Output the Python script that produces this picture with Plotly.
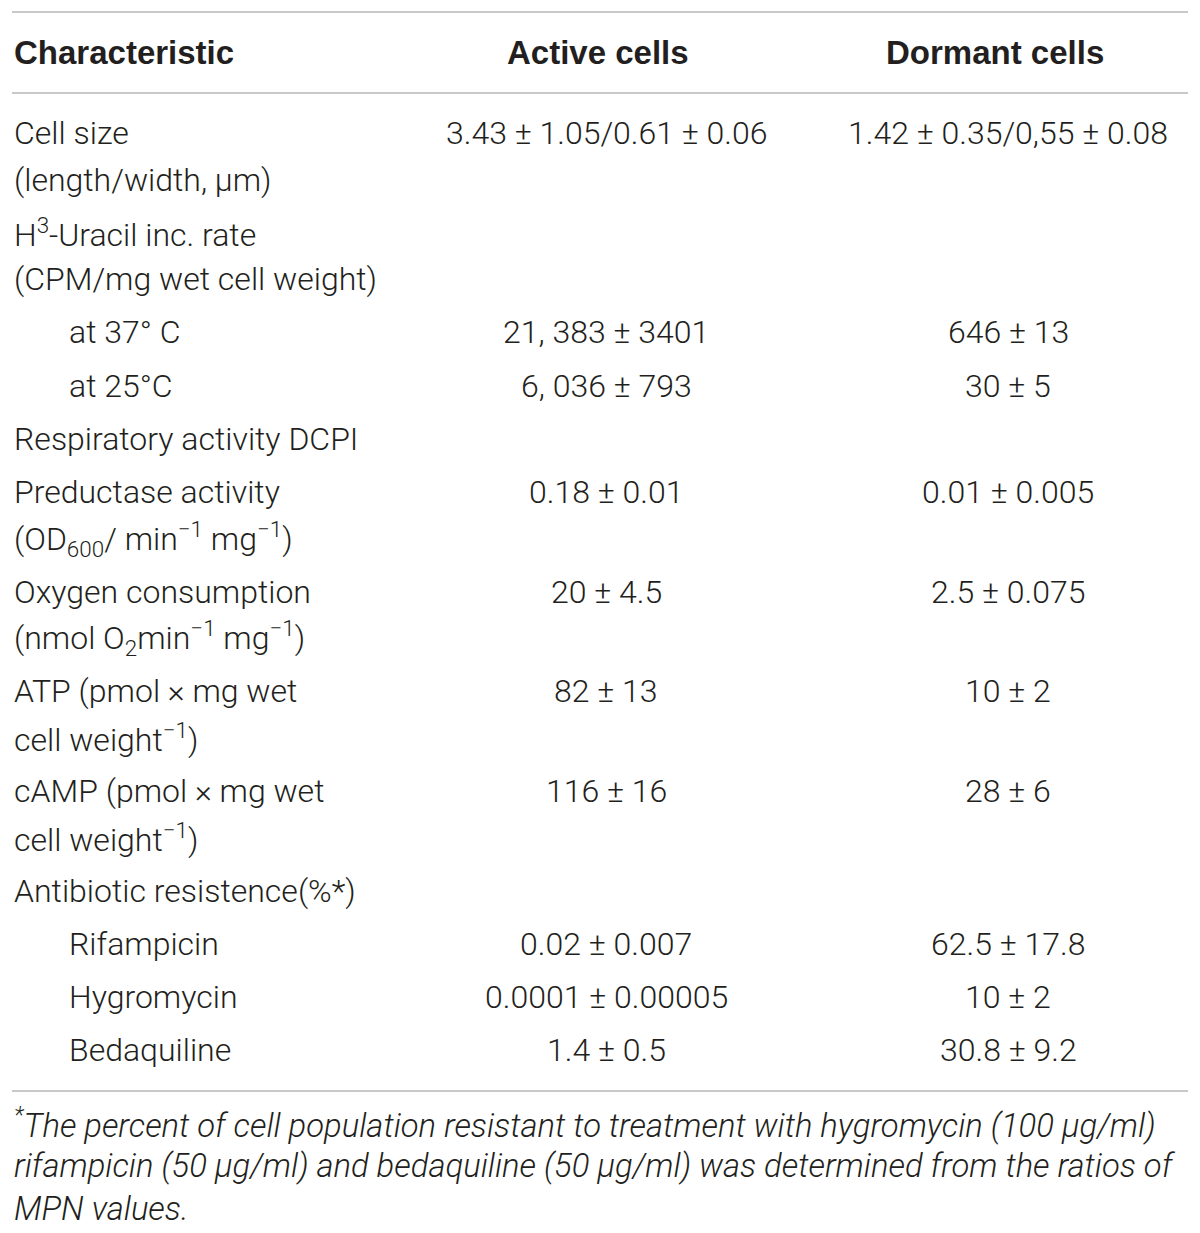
import plotly.graph_objects as go

# ---------------- data ----------------
headers = ["Characteristic", "Active cells", "Dormant cells"]

row_labels = [
    ["Cell size", "(length/width, μm)"],
    ["H<sup>3</sup>-Uracil inc. rate", "(CPM/mg wet cell weight)"],
    ["at 37° C"],
    ["at 25°C"],
    ["Respiratory activity DCPI"],
    ["Preductase activity", "(OD<sub>600</sub>/ min<sup>−1</sup> mg<sup>−1</sup>)"],
    ["Oxygen consumption", "(nmol O<sub>2</sub>min<sup>−1</sup> mg<sup>−1</sup>)"],
    ["ATP (pmol × mg wet", "cell weight<sup>−1</sup>)"],
    ["cAMP (pmol × mg wet", "cell weight<sup>−1</sup>)"],
    ["Antibiotic resistence(%*)"],
    ["Rifampicin"],
    ["Hygromycin"],
    ["Bedaquiline"],
]
row_indent = [False, False, True, True, False, False, False, False, False, False, True, True, True]

active_values = [
    "3.43 ± 1.05/0.61 ± 0.06", "", "21, 383 ± 3401", "6, 036 ± 793", "",
    "0.18 ± 0.01", "20 ± 4.5", "82 ± 13", "116 ± 16", "",
    "0.02 ± 0.007", "0.0001 ± 0.00005", "1.4 ± 0.5",
]
dormant_values = [
    "1.42 ± 0.35/0,55 ± 0.08", "", "646 ± 13", "30 ± 5", "",
    "0.01 ± 0.005", "2.5 ± 0.075", "10 ± 2", "28 ± 6", "",
    "62.5 ± 17.8", "10 ± 2", "30.8 ± 9.2",
]

footnote_lines = [
    "<sup>*</sup>The percent of cell population resistant to treatment with hygromycin (100 μg/ml)",
    "rifampicin (50 μg/ml) and bedaquiline (50 μg/ml) was determined from the ratios of",
    "MPN values.",
]

# ---------------- layout constants ----------------
W, H = 1200, 1233
PAGE_PAD = 8  # browser body margin
LEFT, RIGHT = 12, 1188
INDENT = 55
COL_ACTIVE, COL_DORMANT = 606, 1008
HEAD_ACTIVE, HEAD_DORMANT = 598, 995
HEAD_Y = 52
FIRST_Y = 133
LINE_STEP = 46.5
ROW_GAP = 53.2
FOOT_Y0, FOOT_STEP = 1123, 43
RULES = [12, 93, 1091]

FONT = "Roboto"
HEAD_FONT = "Liberation Sans"
TXT = "#231f20"
SIZE = 32

annotations = []

def add(text, x, y, anchor="left", bold=False, italic=False, size=SIZE, family=FONT):
    annotations.append(dict(
        text=text, x=x, y=y, xref="x", yref="y", xanchor=anchor, yanchor="middle",
        showarrow=False,
        font=dict(family=family, size=size, color=TXT,
                  weight=700 if bold else 300,
                  style="italic" if italic else "normal"),
    ))

add(headers[0], LEFT, HEAD_Y, "left", bold=True, size=33, family=HEAD_FONT)
add(headers[1], HEAD_ACTIVE, HEAD_Y, "center", bold=True, size=33, family=HEAD_FONT)
add(headers[2], HEAD_DORMANT, HEAD_Y, "center", bold=True, size=33, family=HEAD_FONT)

y = FIRST_Y
for labels, ind, av, dv in zip(row_labels, row_indent, active_values, dormant_values):
    first_y = y
    for k, lab in enumerate(labels):
        add(lab, LEFT + (INDENT if ind else 0), y, "left")
        if k < len(labels) - 1:
            y += LINE_STEP
    if av:
        add(av, COL_ACTIVE, first_y, "center")
    if dv:
        add(dv, COL_DORMANT, first_y, "center")
    y += ROW_GAP

for i, line in enumerate(footnote_lines):
    add(line, LEFT, FOOT_Y0 + i * FOOT_STEP, "left", italic=True, size=32.8)

shapes = [dict(type="line", xref="x", yref="y", x0=LEFT, x1=RIGHT, y0=r, y1=r,
               line=dict(color="#c9c9c9", width=2)) for r in RULES]

fig = go.Figure()
fig.add_trace(go.Scatter(x=[PAGE_PAD, W], y=[PAGE_PAD, H], mode="markers",
                         marker=dict(opacity=0), hoverinfo="skip", showlegend=False))
fig.update_layout(
    width=W - PAGE_PAD, height=H - PAGE_PAD, margin=dict(l=0, r=0, t=0, b=0),
    paper_bgcolor="white", plot_bgcolor="white",
    xaxis=dict(range=[PAGE_PAD, W], visible=False, fixedrange=True),
    yaxis=dict(range=[H, PAGE_PAD], visible=False, fixedrange=True),
    annotations=annotations, shapes=shapes,
)
fig.write_html("out.html")
